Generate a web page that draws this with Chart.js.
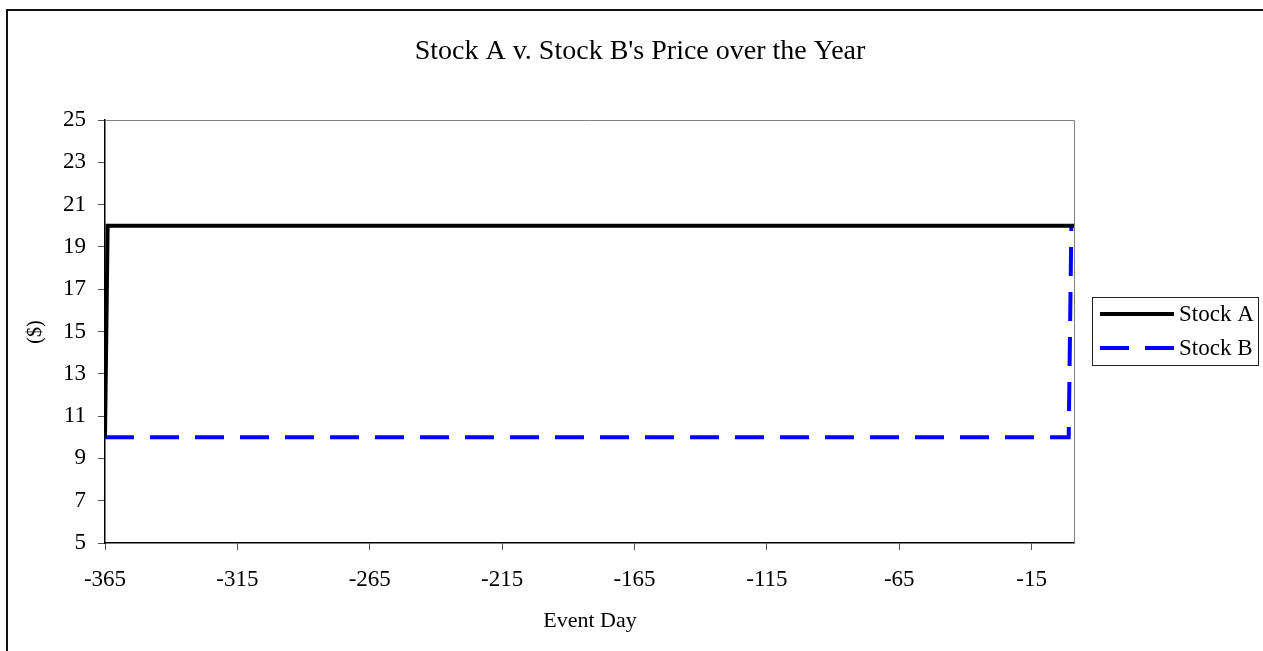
<!DOCTYPE html>
<html>
<head>
<meta charset="utf-8">
<script src="https://cdn.jsdelivr.net/npm/chart.js@4"></script>
<style>
  html, body { margin: 0; padding: 0; background: #fff; }
  #wrap { width: 1263px; height: 651px; }
</style>
</head>
<body>
<div id="wrap"><canvas id="c" width="1263" height="651"></canvas></div>
<script>
// data
const daysA = [-365, -364, 1];
const stockA = [10, 20, 20];
const daysB = [-365, -1, 0];
const stockB = [10, 10, 20];
const xTicks = [-365, -315, -265, -215, -165, -115, -65, -15];
const seriesNames = ['Stock A', 'Stock B'];

const FONT = '"Liberation Serif", "Times New Roman", serif';

// title, axis titles, plot frame, outer frame and legend
const decor = {
    id: 'decor',
    afterDraw(chart) {
        const ctx = chart.ctx;
        const a = chart.chartArea;
        ctx.save();

        // outer frame (only top/left visible)
        ctx.strokeStyle = '#111';
        ctx.lineWidth = 2;
        ctx.strokeRect(7, 10, 1400, 1400);

        // plot frame top/right
        ctx.strokeStyle = '#808080';
        ctx.lineWidth = 1;
        ctx.beginPath();
        ctx.moveTo(a.left, a.top + 0.5);
        ctx.lineTo(a.right + 0.5, a.top + 0.5);
        ctx.lineTo(a.right + 0.5, a.bottom);
        ctx.stroke();

        ctx.fillStyle = '#000';
        ctx.textAlign = 'center';
        ctx.textBaseline = 'alphabetic';
        ctx.font = '28px ' + FONT;
        ctx.fillText("Stock A v. Stock B's Price over the Year", 640, 59);

        ctx.font = '22px ' + FONT;
        ctx.fillText('Event Day', 590, 627);

        ctx.save();
        ctx.translate(36, 332);
        ctx.rotate(-Math.PI / 2);
        ctx.font = '20px ' + FONT;
        ctx.textBaseline = 'middle';
        ctx.fillText('($)', 0, 0);
        ctx.restore();

        // legend
        ctx.strokeStyle = '#222';
        ctx.lineWidth = 1;
        ctx.strokeRect(1092.5, 297.5, 166, 68);
        ctx.font = '23px ' + FONT;
        ctx.textAlign = 'left';
        ctx.textBaseline = 'middle';
        chart.data.datasets.forEach((ds, i) => {
            const y = 314 + i * 34;
            ctx.strokeStyle = ds.borderColor;
            ctx.lineWidth = ds.borderWidth;
            ctx.setLineDash(ds.borderDash || []);
            ctx.lineCap = 'butt';
            ctx.beginPath();
            ctx.moveTo(1100, y);
            ctx.lineTo(1174, y);
            ctx.stroke();
            ctx.setLineDash([]);
            ctx.fillText(ds.label, 1179, y + 1);
        });
        ctx.restore();
    }
};

new Chart(document.getElementById('c'), {
    type: 'line',
    data: {
        datasets: [
            {
                label: seriesNames[0],
                data: daysA.map((d, i) => ({ x: d, y: stockA[i] })),
                borderColor: '#000000',
                borderWidth: 4,
                pointRadius: 0,
                tension: 0,
                fill: false
            },
            {
                label: seriesNames[1],
                data: daysB.map((d, i) => ({ x: d, y: stockB[i] })),
                borderColor: '#0000ff',
                borderWidth: 4,
                borderDash: [29, 16],
                pointRadius: 0,
                tension: 0,
                fill: false
            }
        ]
    },
    options: {
        responsive: false,
        animation: false,
        layout: { padding: { top: 120, right: 189, left: 0, bottom: 0 } },
        plugins: {
            legend: { display: false },
            title: { display: false },
            tooltip: { enabled: false }
        },
        scales: {
            x: {
                type: 'linear',
                min: -365,
                max: 1,
                afterBuildTicks: s => { s.ticks = xTicks.map(v => ({ value: v })); },
                afterFit: s => { s.height = 108; },
                grid: { drawOnChartArea: false, drawTicks: true, tickLength: 7, color: '#555' },
                border: { display: true, color: '#000', width: 1.5 },
                ticks: { color: '#000', padding: 16, maxRotation: 0, font: { family: FONT, size: 23 } }
            },
            y: {
                min: 5,
                max: 25,
                ticks: { stepSize: 2, color: '#000', padding: 12, font: { family: FONT, size: 23 } },
                afterFit: s => { s.width = 105; },
                grid: { drawOnChartArea: false, drawTicks: true, tickLength: 7, color: '#555' },
                border: { display: true, color: '#000', width: 1.5 }
            }
        }
    },
    plugins: [decor]
});
</script>
</body>
</html>
